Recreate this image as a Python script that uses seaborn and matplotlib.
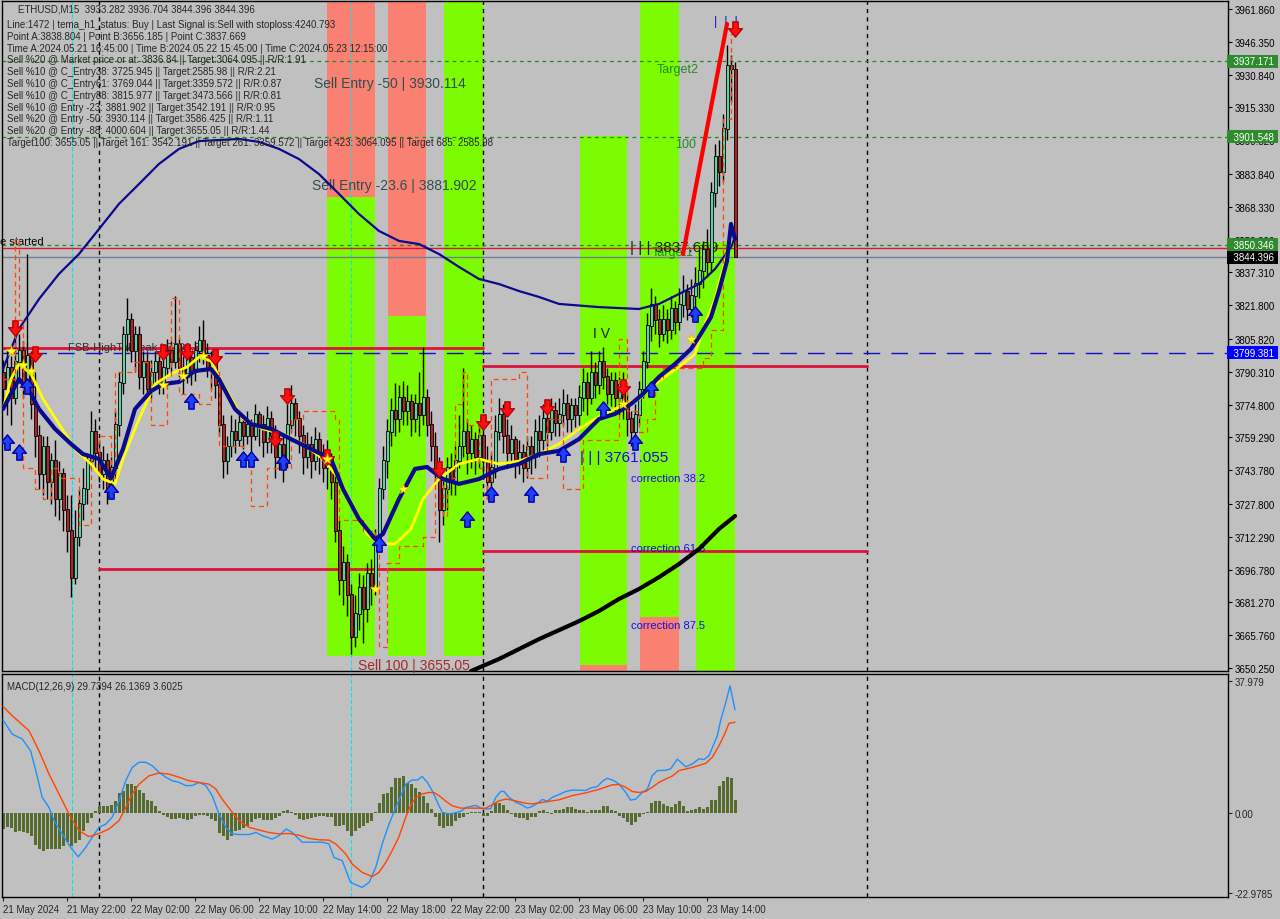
import matplotlib
matplotlib.use("Agg")
import matplotlib.pyplot as plt
import seaborn as sns
import pandas as pd
import numpy as np
from matplotlib.path import Path

sns.set_theme(style="white")
plt.rcParams['font.family'] = ['Liberation Sans', 'DejaVu Sans']

BG = '#C0C0C0'

# ETHUSD M15, bar 0 = 21 May 2024 18:00 (8 bars per row)
close = [3782, 3792, 3778, 3795, 3800, 3785, 3798, 3775,
         3760, 3742, 3755, 3738, 3748, 3730, 3742, 3725,
         3715, 3693, 3712, 3728, 3735, 3748, 3762, 3752,
         3742, 3748, 3735, 3745, 3765, 3785, 3808, 3815,
         3800, 3808, 3788, 3795, 3782, 3790, 3795, 3785,
         3792, 3800, 3795, 3803, 3792, 3788, 3797, 3790,
         3800, 3805, 3798, 3792, 3796, 3784, 3765, 3748,
         3755, 3762, 3758, 3766, 3760, 3765, 3760, 3770,
         3765, 3757, 3768, 3760, 3750, 3756, 3748, 3765,
         3775, 3768, 3760, 3750, 3756, 3748, 3758, 3752,
         3745, 3750, 3738, 3715, 3692, 3700, 3685, 3665,
         3676, 3688, 3678, 3695, 3688, 3710, 3735, 3748,
         3762, 3772, 3768, 3778, 3772, 3776, 3768, 3775,
         3770, 3778, 3765, 3755, 3745, 3725, 3735, 3745,
         3738, 3748, 3755, 3762, 3752, 3758, 3750, 3760,
         3748, 3738, 3745, 3762, 3770, 3760, 3752, 3758,
         3748, 3752, 3745, 3755, 3750, 3762, 3758, 3768,
         3762, 3772, 3766, 3770, 3775, 3768, 3774, 3770,
         3778, 3785, 3778, 3790, 3784, 3795, 3788, 3780,
         3786, 3778, 3784, 3775, 3768, 3762, 3770, 3782,
         3795, 3812, 3822, 3815, 3808, 3815, 3810, 3820,
         3814, 3822, 3828, 3820, 3826, 3832, 3838, 3848,
         3842, 3875, 3892, 3885, 3905, 3935, 3933.282, 3844.396]
high = [3796, 3800, 3798, 3812, 3808, 3805, 3846, 3800,
        3790, 3765, 3760, 3760, 3752, 3758, 3748, 3745,
        3732, 3732, 3725, 3735, 3745, 3752, 3772, 3768,
        3758, 3755, 3752, 3750, 3772, 3790, 3812, 3825,
        3818, 3812, 3812, 3800, 3800, 3796, 3800, 3798,
        3798, 3806, 3805, 3826, 3806, 3798, 3802, 3800,
        3805, 3812, 3815, 3804, 3800, 3798, 3788, 3770,
        3760, 3770, 3768, 3772, 3770, 3772, 3768, 3775,
        3772, 3770, 3774, 3772, 3765, 3762, 3760, 3775,
        3784, 3778, 3772, 3765, 3762, 3760, 3764, 3762,
        3756, 3758, 3752, 3742, 3720, 3708, 3704, 3690,
        3685, 3695, 3694, 3700, 3702, 3716, 3740, 3755,
        3768, 3778, 3785, 3784, 3786, 3784, 3780, 3780,
        3790, 3802, 3782, 3772, 3762, 3750, 3740, 3750,
        3752, 3755, 3770, 3792, 3768, 3765, 3762, 3766,
        3764, 3755, 3752, 3770, 3778, 3775, 3768, 3765,
        3760, 3758, 3756, 3760, 3760, 3768, 3770, 3775,
        3775, 3778, 3776, 3778, 3782, 3780, 3778, 3778,
        3784, 3792, 3790, 3800, 3795, 3800, 3802, 3792,
        3790, 3790, 3788, 3790, 3780, 3772, 3775, 3786,
        3800, 3818, 3830, 3826, 3820, 3822, 3820, 3826,
        3824, 3830, 3836, 3832, 3834, 3840, 3848, 3852,
        3858, 3880, 3898, 3900, 3912, 3945, 3940, 3936.704]
low = [3775, 3770, 3765, 3775, 3785, 3778, 3780, 3768,
       3750, 3735, 3732, 3730, 3728, 3722, 3720, 3715,
       3705, 3684, 3690, 3708, 3720, 3728, 3745, 3745,
       3738, 3735, 3728, 3730, 3740, 3760, 3780, 3800,
       3795, 3790, 3782, 3780, 3776, 3778, 3785, 3780,
       3780, 3788, 3790, 3792, 3788, 3780, 3785, 3784,
       3786, 3795, 3794, 3788, 3782, 3778, 3760, 3740,
       3742, 3750, 3752, 3755, 3754, 3756, 3752, 3758,
       3755, 3750, 3752, 3752, 3740, 3744, 3738, 3745,
       3762, 3760, 3752, 3742, 3745, 3740, 3744, 3742,
       3738, 3735, 3730, 3710, 3685, 3680, 3675, 3657,
       3660, 3668, 3662, 3672, 3680, 3685, 3705, 3730,
       3740, 3755, 3760, 3762, 3765, 3765, 3760, 3762,
       3760, 3765, 3760, 3748, 3738, 3710, 3718, 3725,
       3732, 3732, 3745, 3750, 3742, 3745, 3742, 3745,
       3740, 3730, 3735, 3740, 3758, 3752, 3745, 3748,
       3740, 3742, 3738, 3740, 3742, 3745, 3750, 3752,
       3755, 3758, 3760, 3760, 3765, 3762, 3762, 3764,
       3765, 3772, 3770, 3775, 3778, 3780, 3782, 3775,
       3774, 3772, 3770, 3768, 3760, 3755, 3758, 3765,
       3778, 3792, 3805, 3808, 3802, 3805, 3804, 3806,
       3808, 3810, 3816, 3815, 3816, 3820, 3825, 3830,
       3835, 3838, 3868, 3878, 3880, 3900, 3918, 3844.396]
open_ = [3790] + close[:-1]

time_labels = ['21 May 2024', '21 May 22:00', '22 May 02:00', '22 May 06:00', '22 May 10:00',
               '22 May 14:00', '22 May 18:00', '22 May 22:00', '23 May 02:00', '23 May 06:00',
               '23 May 10:00', '23 May 14:00']
time_pos = [0, 16, 32, 48, 64, 80, 96, 112, 128, 144, 160, 176]

price_ticks = [3961.860, 3946.350, 3930.840, 3915.330, 3899.820, 3883.840, 3868.330, 3852.820,
               3837.310, 3821.800, 3805.820, 3790.310, 3774.800, 3759.290, 3743.780, 3727.800,
               3712.290, 3696.780, 3681.270, 3665.760, 3650.250]

# moving averages (bar, price)
ma_slow_x = [0, 4, 9, 14, 19, 24, 29, 34, 39, 44, 49, 59, 64, 69, 74, 79, 84, 89, 94, 99, 104,
             109, 114, 119, 124, 129, 134, 139, 149, 159, 164, 169, 174, 178, 182, 183]
ma_slow_y = [3791.6, 3810.6, 3824.7, 3836.6, 3846.0, 3857.8, 3869.7, 3879.1, 3888.6, 3895.7,
             3899.4, 3900.4, 3899.0, 3895.7, 3890.9, 3883.8, 3874.4, 3864.9, 3856.9, 3852.2,
             3850.7, 3846.0, 3839.9, 3834.2, 3831.8, 3828.5, 3825.7, 3822.4, 3820.9, 3820.0,
             3822.4, 3827.1, 3831.8, 3838.9, 3849.3, 3854.0]
ma_mid_x = [0, 2, 4, 7, 9, 13, 17, 20, 24, 27, 30, 33, 37, 40, 44, 48, 52, 54, 58, 62, 67, 72,
            77, 82, 85, 89, 93, 95, 99, 103, 106, 110, 114, 119, 124, 129, 134, 139, 144, 149,
            153, 157, 160, 164, 168, 172, 174, 177, 179, 181, 182, 183]
ma_mid_y = [3772.7, 3779.8, 3786.9, 3779.8, 3772.7, 3763.3, 3756.2, 3751.4, 3749.1, 3740.0,
            3753.8, 3772.7, 3781.2, 3784.5, 3785.5, 3790.7, 3791.6, 3786.9, 3772.7, 3765.6,
            3763.3, 3758.5, 3753.8, 3749.1, 3734.9, 3720.7, 3711.2, 3713.6, 3730.2, 3744.4,
            3745.3, 3739.6, 3737.3, 3739.6, 3744.4, 3746.7, 3751.4, 3752.9, 3758.5, 3768.0,
            3770.4, 3775.1, 3779.8, 3787.9, 3794.0, 3801.1, 3806.8, 3816.2, 3828.5, 3842.7,
            3860.2, 3853.1]
ma_fast_x = [0, 2, 4, 7, 10, 14, 18, 22, 25, 28, 30, 34, 38, 42, 46, 49, 52, 55, 60, 65, 70,
             75, 80, 84, 88, 91, 94, 98, 102, 105, 109, 114, 119, 124, 129, 134, 139, 144, 149,
             154, 159, 164, 169, 173, 175, 178, 180, 182]
ma_fast_y = [3772.7, 3786.9, 3794.0, 3789.3, 3777.5, 3765.6, 3753.8, 3746.7, 3739.6, 3737.3,
             3749.1, 3768.0, 3784.5, 3789.3, 3792.6, 3797.3, 3795.4, 3784.5, 3768.0, 3763.3,
             3760.9, 3756.2, 3749.1, 3739.6, 3725.4, 3713.6, 3708.9, 3708.9, 3716.0, 3730.2,
             3739.6, 3746.7, 3749.1, 3746.7, 3748.1, 3751.4, 3756.2, 3763.3, 3769.0, 3773.7,
             3777.5, 3786.0, 3792.6, 3798.7, 3810.6, 3824.7, 3838.9, 3853.1]
ma_long_x = [117, 124, 134, 144, 149, 154, 159, 164, 169, 174, 179, 183]
ma_long_y = [3648.8, 3654.5, 3663.9, 3672.4, 3677.2, 3682.9, 3687.6, 3693.2, 3699.4, 3706.5,
             3716.0, 3722.1]
stop_x = [0, 3, 4, 5, 8, 10, 12, 14, 19, 22, 24, 27, 28, 33, 37, 41, 42, 44, 49, 52, 54, 60,
          62, 66, 72, 75, 83, 84, 90, 93, 94, 96, 99, 105, 108, 110, 111, 113, 115, 116, 119,
          121, 122, 129, 131, 136, 140, 145, 150, 154, 156, 159, 161, 163, 165, 175, 177, 180,
          182, 183]
stop_y = [3787, 3853, 3815, 3745, 3735, 3730, 3745, 3740, 3718, 3750, 3760, 3740, 3790, 3795,
          3765, 3785, 3825, 3780, 3775, 3790, 3755, 3750, 3727, 3745, 3768, 3772, 3768, 3720,
          3715, 3712, 3660, 3700, 3708, 3712, 3740, 3722, 3740, 3775, 3790, 3765, 3745, 3730,
          3787, 3790, 3740, 3768, 3735, 3758, 3758, 3806, 3772, 3762, 3768, 3787, 3792, 3797,
          3810, 3910, 3950, 3950]
wave_x = [170, 181]
wave_y = [3846.0, 3954.8]

sell_x = [3, 8, 40, 46, 53, 68, 71, 81, 109, 120, 126, 136, 155, 183]
sell_y = [3811.2, 3798.7, 3799.9, 3799.9, 3797.5, 3758.5, 3778.9, 3750.0, 3744.4, 3766.6,
          3772.7, 3773.7, 3783.1, 3952.4]
buy_x = [1, 4, 6, 27, 47, 60, 62, 70, 94, 116, 122, 132, 140, 150, 158, 162, 173]
buy_y = [3757.1, 3752.4, 3783.6, 3734.0, 3776.5, 3749.1, 3749.1, 3747.7, 3708.9, 3720.7,
         3732.5, 3732.5, 3751.4, 3772.7, 3757.1, 3782.2, 3817.7]
star_x = [2, 5, 7, 40, 45, 50, 81, 93, 100, 155, 172]
star_y = [3800.0, 3793.5, 3790.7, 3784.0, 3788.3, 3797.8, 3749.0, 3687.6, 3734.9, 3775.0, 3805.8]

# zones: (start bar, end bar, low price, high price, colour)
zones = [(81, 93, 3873.0, 3966, 'salmon'), (81, 93, 3655.9, 3873.0, 'green'),
         (96.25, 105.75, 3816.7, 3966, 'salmon'), (96.25, 105.75, 3655.9, 3816.7, 'green'),
         (110.25, 120, 3655.9, 3966, 'green'),
         (144.25, 156, 3651.7, 3901.8, 'green'), (144.25, 156, 3640, 3651.7, 'salmon'),
         (159.25, 169, 3674.4, 3966, 'green'), (159.25, 169, 3640, 3674.4, 'salmon'),
         (173.25, 183, 3640, 3851.7, 'green')]

# horizontal levels: (start bar, end bar, price)
red_levels = [(-1, 120, 3801.6), (24, 120, 3697.1), (120, 216, 3793.0), (120, 216, 3705.6),
              (-1, 320, 3848.9)]
green_levels = [3937.171, 3901.548, 3850.346]
blue_level = 3799.381
last_price = 3844.396

# MACD (12,26,9)
macd_hist = [-4.5, -4.0, -4.3, -5.5, -5.3, -5.6, -5.8, -6.7, -9.3, -10.4,
             -10.8, -10.4, -10.4, -10.4, -10.4, -9.6, -8.2, -9.6, -8.6, -7.7,
             -5.3, -2.9, -1.4, 0.5, 1.9, 2.1, 2.1, 2.4, 3.4, 5.8,
             6.3, 8.4, 8.4, 7.7, 6.7, 5.8, 3.8, 3.4, 1.9, 0.5,
             -0.5, -1.2, -1.7, -1.7, -1.4, -1.7, -2.1, -1.7, -1.0, -0.5,
             -0.5, -1.0, -1.7, -2.4, -5.8, -6.7, -7.7, -6.7, -5.3, -4.8,
             -4.3, -3.6, -2.7, -1.7, -1.4, -2.1, -2.1, -1.9, -1.4, -0.8,
             0.5, 1.0, 0.3, -0.5, -1.7, -1.9, -1.7, -1.4, -1.2, -1.0,
             -1.0, -1.2, -1.2, -3.8, -3.6, -3.4, -5.3, -6.7, -5.3, -4.3,
             -3.8, -2.9, -2.4, 0.2, 2.9, 5.6, 5.9, 7.5, 10.1, 10.2,
             10.7, 8.6, 8.4, 7.2, 6.0, 5.0, 2.9, 1.2, -1.2, -3.6,
             -4.3, -3.8, -3.8, -2.4, -1.4, -1.2, -0.2, 0.2, 0.2, 0.3,
             -1.0, -1.0, 0.5, 2.9, 2.9, 2.4, 1.0, -0.2, -1.2, -1.4,
             -1.4, -2.1, -1.2, -1.2, 0.5, 0.8, 0.2, -0.2, 1.0, 0.8,
             1.2, 1.6, 1.6, 1.2, 1.0, 0.8, 0.2, 1.0, 0.8, 0.8,
             1.9, 2.1, 1.0, 0.5, -0.8, -1.4, -2.7, -3.4, -2.7, -1.2,
             -0.3, 0.2, 2.9, 3.5, 3.5, 2.7, 1.9, 1.6, 2.7, 3.4,
             1.9, 0.5, 0.8, 1.2, 1.6, 1.2, 1.6, 3.6, 3.8, 7.7,
             9.3, 10.4, 10.1, 3.6]
macd_x = [0, 2.3, 4.8, 6.9, 8.2, 9.8, 11.5, 12.75, 14.8, 16.9, 18.8, 20.7, 22.3, 24, 25.7,
          27.3, 29, 30.7, 32.3, 34, 35.7, 37.3, 39, 40.7, 42.3, 44, 45.7, 47.3, 49, 50.7, 52.3,
          54, 55.7, 57.3, 59, 61.5, 63.2, 64.8, 67.3, 69, 70.8, 72.3, 74.8, 79.8, 81.5, 82.75,
          84.8, 86.9, 89.8, 91.5, 93.2, 94.8, 96.5, 98.2, 100.7, 102.3, 103.6, 104.8, 106.1,
          107.3, 108.6, 109.8, 111.5, 113.6, 114.8, 115.7, 118.2, 119.8, 121.9, 123.2, 124.4,
          125.25, 126.5, 128.2, 129.8, 131.1, 132.3, 134, 134.8, 136.1, 137.3, 139, 140.7,
          142.3, 145.7, 146.9, 148.6, 149.8, 151.1, 152.75, 154, 155.7, 156.9, 158.2, 159.8,
          161.1, 162.3, 163.6, 165.7, 166.9, 168.6, 170.7, 172.3, 174, 175.25, 176.5, 177.75,
          178.6, 179.4, 180.7, 181.75, 183]
macd_main = [26.8, 22.7, 21.3, 17.9, 12.2, 4.5, 1.6, -2.2, -6.0, -9.9, -12.6, -9.9, -7.0, -4.1,
             -3.2, -1.2, 3.5, 9.3, 13.1, 14.6, 14.6, 13.6, 11.7, 10.3, 9.3, 8.8, 7.9, 7.9, 8.8,
             7.9, 5.0, -0.3, -4.1, -6.0, -6.2, -6.2, -5.6, -6.5, -7.5, -6.5, -4.6, -5.6, -8.4,
             -8.4, -8.9, -12.8, -13.7, -20.0, -21.4, -20.0, -15.6, -8.9, -3.2, 1.6, 8.3, 9.5,
             9.5, 10.5, 8.8, 6.4, 3.1, 0.2, -0.3, 0.2, 0.7, 1.6, 2.2, 1.2, 1.2, 4.5, 6.2, 6.2,
             4.5, 3.1, 2.3, 1.4, 1.9, 3.1, 3.9, 3.4, 4.5, 5.3, 6.2, 6.6, 6.5, 7.2, 7.6, 9.1,
             10.0, 9.3, 8.3, 5.9, 3.7, 4.0, 5.9, 6.9, 10.7, 12.2, 12.3, 12.7, 15.5, 13.3, 14.1,
             15.6, 15.4, 16.5, 19.9, 22.3, 26.6, 31.8, 36.6, 29.7394]
signal_x = [0, 2.3, 6.5, 9, 11.5, 14, 16.5, 19, 21.5, 24, 26.5, 29, 30.7, 32.3, 34, 36.5, 39,
            41.5, 44, 46.5, 49, 51.5, 53.2, 54.8, 57.3, 59, 61.5, 64, 66.5, 69, 71.5, 74, 76.5,
            79, 81.5, 83.2, 85.7, 87.3, 89.8, 92.3, 94, 95.7, 97.3, 99, 100.7, 101.9, 103.2,
            104.8, 106.5, 107.75, 109, 110.7, 112.3, 114.4, 120.7, 122.3, 124, 125.7, 127.3,
            130.7, 132.3, 135.7, 139, 142.3, 145.7, 149, 152.3, 154, 155.7, 157.3, 159, 160.7,
            162.3, 164, 165.7, 167.3, 169, 172.3, 175.7, 177.3, 179, 180.25, 181.5, 183]
signal_y = [30.7, 28.0, 23.7, 17.9, 11.2, 5.5, -0.3, -5.1, -6.8, -5.9, -4.6, -2.2, 1.6, 5.5,
            8.3, 10.7, 11.5, 11.2, 10.3, 9.3, 8.8, 8.3, 6.9, 4.0, 0.2, -2.2, -4.1, -4.9, -5.6,
            -6.0, -5.9, -6.4, -7.3, -7.7, -7.8, -8.9, -11.8, -14.7, -17.1, -18.3, -17.1, -14.2,
            -10.8, -6.8, -1.2, 2.1, 4.5, 5.5, 5.9, 5.9, 5.0, 3.4, 2.1, 1.4, 1.4, 2.4, 3.5, 4.0,
            3.7, 2.8, 2.6, 3.2, 3.8, 5.0, 5.8, 6.8, 8.1, 8.2, 7.4, 6.2, 5.9, 6.2, 7.4, 8.8, 9.8,
            10.6, 12.2, 13.1, 14.3, 16.0, 19.4, 22.3, 25.8, 26.1369]

header = ["Line:1472 | tema_h1_status: Buy | Last Signal is:Sell with stoploss:4240.793",
          "Point A:3838.804 | Point B:3656.185 | Point C:3837.669",
          "Time A:2024.05.21 16:45:00 | Time B:2024.05.22 15:45:00 | Time C:2024.05.23 12:15:00",
          "Sell %20 @ Market price or at: 3836.84 || Target:3064.095 || R/R:1.91",
          "Sell %10 @ C_Entry38: 3725.945 || Target:2585.98 || R/R:2.21",
          "Sell %10 @ C_Entry61: 3769.044 || Target:3359.572 || R/R:0.87",
          "Sell %10 @ C_Entry88: 3815.977 || Target:3473.566 || R/R:0.81",
          "Sell %10 @ Entry -23: 3881.902 || Target:3542.191 || R/R:0.95",
          "Sell %20 @ Entry -50: 3930.114 || Target:3586.425 || R/R:1.11",
          "Sell %20 @ Entry -88: 4000.604 || Target:3655.05 || R/R:1.44",
          "Target100: 3655.05 || Target 161: 3542.191 || Target 261: 3359.572 || Target 423: 3064.095 || Target 685: 2585.98"]

W, H = 1280, 920
fig = plt.figure(figsize=(12.8, 9.2), dpi=100, facecolor=BG)
ax = fig.add_axes([2 / W, 1 - 672 / H, 1226 / W, 670 / H], facecolor=BG)
axm = fig.add_axes([2 / W, 1 - 898 / H, 1226 / W, 223 / H], facecolor=BG, sharex=ax)

XMIN, XMAX = -0.25, 306.25
YMIN, YMAX = 3648.83, 3965.64
ax.set_xlim(XMIN, XMAX)
ax.set_ylim(YMIN, YMAX)
axm.set_ylim(-24.17, 40.0)


def px(x):
    return (x - 3) / 4


def py(y):
    return 3966.59 - 0.47285 * y


FS = 7.0
green = '#7CFC00'
salmon = '#FA8072'
for x0, x1, y0, y1, c in zones:
    ax.fill_between([x0, x1], y0, y1, color=green if c == 'green' else salmon, lw=0, zorder=0)

for a in (ax, axm):
    for xv in (24, 120, 216):
        a.axvline(xv, color='black', ls=(0, (3, 3)), lw=1, zorder=1)
    for xv in (17.25, 87):
        a.axvline(xv, color='#00E5EE', ls=(0, (4, 2)), lw=0.8, zorder=1)

for lv in green_levels:
    ax.axhline(lv, color='#1E8C1E', ls=(0, (3, 3)), lw=0.9, zorder=1)
ax.axhline(blue_level, color='#1010C8', ls=(0, (12, 8)), lw=1.0, zorder=1)
ax.axhline(last_price, color='#708090', lw=1.0, zorder=1)
for x0, x1, lv in red_levels:
    ax.plot([x0, x1], [lv, lv], color='#DC143C', lw=2 if x1 < 300 else 1, zorder=2)

# candles
idx = np.arange(len(close))
ax.vlines(idx, low, high, color='black', lw=1, zorder=3)
o = np.array(open_)
c = np.array(close)
bull = c >= o
ax.bar(idx, np.abs(c - o) + 0.4, bottom=np.minimum(o, c), width=0.75,
       color=np.where(bull, '#5FD3A0', '#B22222'), edgecolor='black', lw=0.6, zorder=4)

# moving averages
sns.lineplot(x=ma_slow_x, y=ma_slow_y, ax=ax, color='#0A0A8C', lw=1.6, zorder=5)
sns.lineplot(x=ma_long_x, y=ma_long_y, ax=ax, color='black', lw=3, zorder=5)
sns.lineplot(x=ma_fast_x, y=ma_fast_y, ax=ax, color='#FFFF00', lw=2, zorder=5)
sns.lineplot(x=ma_mid_x, y=ma_mid_y, ax=ax, color='#0A0A8C', lw=3, zorder=6)
ax.plot(stop_x, stop_y, color='#FF4500', lw=0.9, ls=(0, (4, 3)), drawstyle='steps-post', zorder=5)
sns.lineplot(x=wave_x, y=wave_y, ax=ax, color='#FF0000', lw=3, zorder=6)

down = Path([(0, -1), (0.9, 0.1), (0.35, 0.1), (0.35, 1), (-0.35, 1), (-0.35, 0.1), (-0.9, 0.1), (0, -1)],
            closed=True)
up = Path([(0, 1), (0.9, -0.1), (0.35, -0.1), (0.35, -1), (-0.35, -1), (-0.35, -0.1), (-0.9, -0.1), (0, 1)],
          closed=True)
ax.plot(sell_x, sell_y, ls='none', marker=down, ms=11, color='#FF1010', mec='#C00000', zorder=7)
ax.plot(buy_x, buy_y, ls='none', marker=up, ms=11, color='#1E40FF', mec='#0000A0', zorder=7)
ax.plot(star_x, star_y, ls='none', marker='*', ms=8, color='#FFFF20', mec='#E0C000', mew=0.5, zorder=7)

# texts on chart
tc = '#2F4F4F'
ax.text(px(314), py(84), 'Sell Entry -50 | 3930.114', color=tc, fontsize=10, va='center')
ax.text(px(312), py(186), 'Sell Entry -23.6 | 3881.902', color=tc, fontsize=10, va='center')
ax.text(px(358), py(666), 'Sell 100 | 3655.05', color='#A52A2A', fontsize=10, va='center')
ax.text(px(68), py(348), 'FSB-HighToBreak | 3799.38', color='#303030', fontsize=8, va='center')
ax.text(px(0), py(242), 'e started', color='black', fontsize=8, va='center')
ax.text(px(657), py(70), 'Target2', color='#228B22', fontsize=9, va='center')
ax.text(px(675), py(145), '100', color='#228B22', fontsize=9, va='center')
ax.text(px(652), py(253), 'Target1', color='#228B22', fontsize=9, va='center')
ax.text(px(630), py(248), '| | | 3837.669', color='#202020', fontsize=11, va='center')
ax.text(px(593), py(334), 'I V', color='#202020', fontsize=10, va='center')
ax.text(px(580), py(458), '| | | 3761.055', color='#1010E0', fontsize=11, va='center')
ax.text(px(714), py(22), '|  |  |', color='#1010E0', fontsize=9, va='center')
for yy, lab in ((479, 'correction 38.2'), (549, 'correction 61.8'), (626, 'correction 87.5')):
    ax.text(px(631), py(yy), lab, color='#1010E0', fontsize=8, va='center')

fig.text(18 / W, 1 - 9 / H, 'ETHUSD,M15  3933.282 3936.704 3844.396 3844.396', fontsize=FS, va='center')
for k, line in enumerate(header):
    fig.text(7 / W, 1 - (25 + 11.8 * k) / H, line, fontsize=FS, va='center')

# price axis
ax.yaxis.tick_right()
ax.set_yticks(price_ticks)
ax.set_yticklabels([f'{v:.3f}' for v in price_ticks], fontsize=FS)
ax.tick_params(axis='y', direction='out', length=3, width=0.8, pad=2, colors='black')
ax.tick_params(axis='x', bottom=False, labelbottom=False)


def tag(a, v, fc, txt):
    a.text(1.0, v, txt, transform=a.get_yaxis_transform(), fontsize=FS, color='white', va='center',
           ha='left', bbox=dict(boxstyle='square,pad=0.15', fc=fc, ec='none'), zorder=10, clip_on=False)


tag(ax, 3937.171, '#2E8B2E', '  3937.171 ')
tag(ax, 3901.548, '#2E8B2E', '  3901.548 ')
tag(ax, 3848.1, '#FF0000', '  3848.083 ')
tag(ax, 3850.346, '#2E8B2E', '  3850.346 ')
tag(ax, last_price, 'black', '  3844.396 ')
tag(ax, blue_level, '#0000FF', '  3799.381 ')

# MACD panel
axm.bar(idx, macd_hist, width=0.75, color='#556B2F', edgecolor='none', lw=0, zorder=2)
sns.lineplot(x=macd_x, y=macd_main, ax=axm, color='#1E90FF', lw=1, zorder=3)
sns.lineplot(x=signal_x, y=signal_y, ax=axm, color='#FF4500', lw=1, zorder=3)
axm.text(px(7), 36.5, 'MACD(12,26,9) 29.7394 26.1369 3.6025', fontsize=FS, va='center')
axm.yaxis.tick_right()
axm.set_yticks([37.979, 0.0, -22.9785])
axm.set_yticklabels(['37.979', '0.00', '-22.9785'], fontsize=FS)
axm.tick_params(axis='y', direction='out', length=3, width=0.8, pad=2)
axm.set_xticks(time_pos)
axm.set_xticklabels(time_labels, fontsize=FS, ha='left')
axm.tick_params(axis='x', direction='out', length=3, width=0.8, pad=2, bottom=True)
axm.set_xlim(XMIN, XMAX)

for a in (ax, axm):
    a.grid(False)
    a.set_xlabel('')
    a.set_ylabel('')
    for s in a.spines.values():
        s.set_color('black')
        s.set_linewidth(1)
    if a.get_legend():
        a.get_legend().remove()

fig.savefig('out.png', dpi=100, facecolor=BG)
